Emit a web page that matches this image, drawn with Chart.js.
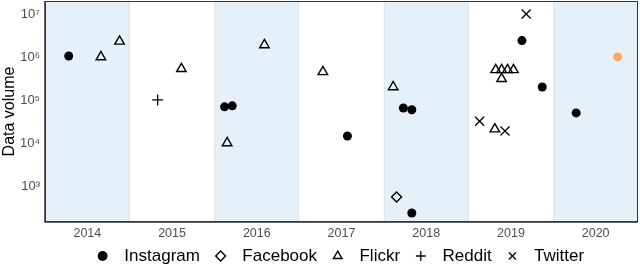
<!DOCTYPE html>
<html>
<head>
<meta charset="utf-8">
<script src="https://cdn.jsdelivr.net/npm/chart.js@4/dist/chart.umd.min.js"></script>
<style>
  html, body { margin: 0; padding: 0; background: #fff; }
  #wrap { width: 640px; height: 267px; position: relative; }
</style>
</head>
<body>
<div id="wrap"><canvas id="myChart"></canvas></div>
<script>
// years on the x-axis, shaded every other year
var years = [2014, 2015, 2016, 2017, 2018, 2019, 2020];
var shadedYears = [2014, 2016, 2018, 2020];
var powers = [1e3, 1e4, 1e5, 1e6, 1e7];

// [year position, data volume]
var instagram = [[2013.78, 1.05e6], [2015.62, 6.9e4], [2015.71, 7.3e4], [2017.07, 1.45e4], [2017.73, 6.5e4],
  [2017.83, 5.9e4], [2017.83, 235], [2019.13, 2.4e6], [2019.37, 2.0e5], [2019.77, 5.0e4]];
var facebook = [[2017.65, 550]];
var flickr = [[2014.16, 1.0e6], [2014.38, 2.3e6], [2015.11, 5.3e5], [2015.65, 1.0e4], [2016.09, 1.9e6],
  [2016.78, 4.5e5], [2017.61, 2.0e5], [2018.81, 2.1e4], [2018.82, 5.0e5], [2018.89, 5.0e5],
  [2018.96, 5.0e5], [2019.03, 5.0e5], [2018.89, 3.1e5]];
var reddit = [[2014.83, 1.0e5]];
var twitter = [[2019.18, 1.0e7], [2018.63, 3.2e4], [2018.93, 1.9e4]];
var highlight = [[2020.26, 1.0e6]];

function pts(arr) {
  return arr.map(function (p) { return { x: p[0], y: p[1] }; });
}

var sup = { '0': '\u2070', '1': '\u00b9', '2': '\u00b2', '3': '\u00b3', '4': '\u2074', '5': '\u2075', '6': '\u2076', '7': '\u2077', '8': '\u2078', '9': '\u2079' };
var FONT = 'Liberation Sans, Arial, sans-serif';

// light blue bands behind the points + panel frame
var bands = {
  id: 'bands',
  beforeDatasetsDraw: function (chart) {
    var c = chart.ctx, a = chart.chartArea, x = chart.scales.x;
    c.save();
    shadedYears.forEach(function (yr) {
      var l = Math.max(a.left, x.getPixelForValue(yr - 0.5));
      var r = Math.min(a.right, x.getPixelForValue(yr + 0.5));
      c.fillStyle = 'rgb(230,240,249)';
      c.fillRect(l, a.top, r - l, a.bottom - a.top);
      c.strokeStyle = 'rgb(214,229,243)';
      c.lineWidth = 1;
      c.beginPath();
      c.moveTo(l + 0.5, a.top); c.lineTo(l + 0.5, a.bottom);
      c.moveTo(r - 0.5, a.top); c.lineTo(r - 0.5, a.bottom);
      c.stroke();
    });
    c.restore();
  },
  afterDatasetsDraw: function (chart) {
    var c = chart.ctx, a = chart.chartArea;
    c.save();
    c.strokeStyle = '#333';
    c.lineWidth = 1;
    c.strokeRect(a.left + 0.5, a.top + 0.5, a.right - a.left - 1, a.bottom - a.top - 1);
    c.lineWidth = 1.5;
    c.beginPath();
    c.moveTo(a.left, a.top); c.lineTo(a.left, a.bottom); c.lineTo(a.right, a.bottom);
    c.stroke();
    c.restore();
  }
};

var ctx = document.getElementById("myChart");
var myChart = new Chart(ctx, {
  type: 'scatter',
  data: {
    datasets: [
      { label: 'Instagram', data: pts(instagram), pointStyle: 'circle', pointRadius: 4.5,
        backgroundColor: '#000', borderColor: '#000', pointBorderWidth: 0 },
      { label: 'Facebook', data: pts(facebook), pointStyle: 'rectRot', pointRadius: 5,
        backgroundColor: 'rgba(0,0,0,0)', borderColor: '#000', pointBorderWidth: 1.4 },
      { label: 'Flickr', data: pts(flickr), pointStyle: 'triangle', pointRadius: 5.5,
        backgroundColor: 'rgba(0,0,0,0)', borderColor: '#000', pointBorderWidth: 1.4 },
      { label: 'Reddit', data: pts(reddit), pointStyle: 'cross', pointRadius: 5.5,
        backgroundColor: 'rgba(0,0,0,0)', borderColor: '#000', pointBorderWidth: 1.3 },
      { label: 'Twitter', data: pts(twitter), pointStyle: 'crossRot', pointRadius: 6.4,
        backgroundColor: 'rgba(0,0,0,0)', borderColor: '#000', pointBorderWidth: 1.3 },
      { label: 'highlight', data: pts(highlight), pointStyle: 'circle', pointRadius: 4.5,
        backgroundColor: '#f8ab5c', borderColor: '#f8ab5c', pointBorderWidth: 0 }
    ]
  },
  options: {
    responsive: true,
    maintainAspectRatio: false,
    animation: false,
    layout: { autoPadding: false, padding: { top: 1, right: 2, left: 0, bottom: 0 } },
    plugins: {
      tooltip: { enabled: false },
      legend: {
        position: 'bottom',
        fullSize: false,
        maxHeight: 27,
        labels: {
          usePointStyle: true,
          boxWidth: 17,
          boxHeight: 7,
          padding: 7.5,
          color: '#000',
          font: { family: FONT, size: 17 },
          generateLabels: function (chart) {
            var items = Chart.defaults.plugins.legend.labels.generateLabels(chart);
            return items.filter(function (it) { return it.text !== 'highlight'; })
              .map(function (it) { it.text = ' ' + it.text + ' '; return it; });
          }
        }
      }
    },
    scales: {
      x: {
        type: 'linear',
        min: 2013.5,
        max: 2020.5,
        grid: { display: false, drawTicks: false },
        border: { display: false },
        afterBuildTicks: function (axis) {
          axis.ticks = years.map(function (v) { return { value: v }; });
        },
        afterFit: function (axis) {
          axis.height = 18;
          axis.paddingLeft = 0;
          axis.paddingRight = 0;
        },
        ticks: {
          padding: 4,
          color: '#4d4d4d',
          font: { family: FONT, size: 12.5 },
          callback: function (v) { return String(v); }
        }
      },
      y: {
        type: 'logarithmic',
        min: 145,
        max: 2e7,
        grid: { display: false, drawTicks: false },
        border: { display: false },
        afterBuildTicks: function (axis) {
          axis.ticks = powers.map(function (v) { return { value: v }; });
        },
        afterFit: function (axis) {
          axis.width = 45;
          axis.paddingTop = 0;
          axis.paddingBottom = 0;
        },
        title: {
          display: true,
          text: 'Data volume',
          color: '#000',
          padding: { top: 0, bottom: 0 },
          font: { family: FONT, size: 16 }
        },
        ticks: {
          padding: 5,
          color: '#4d4d4d',
          font: { family: FONT, size: 13 },
          callback: function (v) {
            var e = String(Math.round(Math.log10(v)));
            return '10' + e.split('').map(function (d) { return sup[d]; }).join('');
          }
        }
      }
    }
  },
  plugins: [bands]
});
</script>
</body>
</html>
